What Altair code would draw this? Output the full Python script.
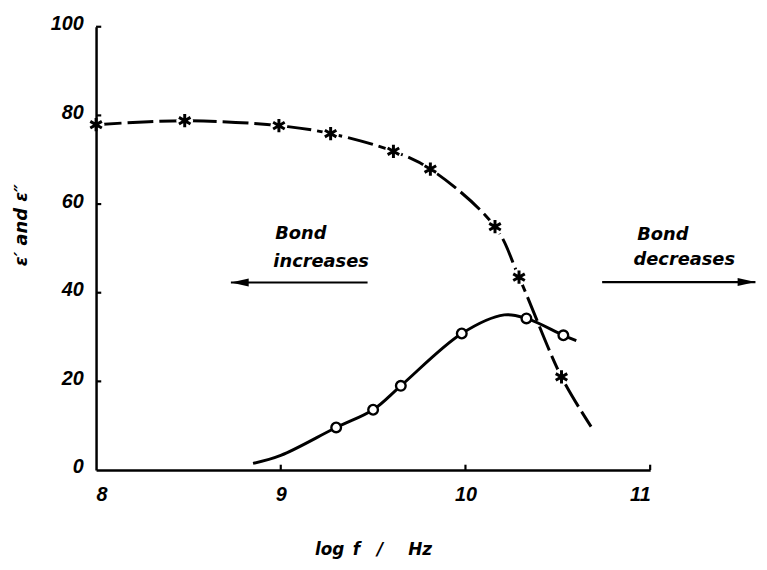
import altair as alt
import pandas as pd

# epsilon' (asterisks, dashed curve)
eps1_x = [8.0, 8.48, 8.99, 9.27, 9.61, 9.81, 10.16, 10.29, 10.52]
eps1_y = [77.9, 78.8, 77.7, 75.9, 71.9, 67.9, 54.9, 43.5, 21.0]
eps1_curve_x = [8.0, 8.48, 8.99, 9.27, 9.61, 9.81, 10.16, 10.29, 10.52, 10.68]
eps1_curve_y = [77.9, 78.8, 77.7, 75.9, 71.9, 67.9, 54.9, 43.5, 21.0, 9.8]

# epsilon'' (open circles, solid curve)
eps2_x = [9.30, 9.50, 9.65, 9.98, 10.33, 10.53]
eps2_y = [9.6, 13.6, 19.0, 30.8, 34.2, 30.4]
eps2_curve_x = [8.85, 9.0, 9.30, 9.50, 9.65, 9.98, 10.21, 10.33, 10.53, 10.60]
eps2_curve_y = [1.5, 3.3, 9.6, 13.6, 19.0, 30.8, 35.0, 34.2, 30.4, 29.2]

# axis ticks
x_ticks = [8, 9, 10, 11]
y_ticks = [0, 20, 40, 60, 80, 100]

# annotations
note_text = ["Bond", "increases", "Bond", "decreases"]
note_x = [8.97, 8.96, 10.93, 10.91]
note_y = [52.2, 45.8, 51.8, 46.2]
arrow_x1 = [9.47, 10.74]
arrow_x2 = [8.73, 11.57]
arrow_y = [42.3, 42.4]
arrow_dir = ["left", "right"]

NUM_FONT = "Liberation Sans"
TXT_FONT = "DejaVu Sans"
SP = "\u2002"

xs = alt.Scale(domain=[8, 11], nice=False, zero=False)
ys = alt.Scale(domain=[0, 100], nice=False, zero=False)

x_axis = alt.Axis(values=x_ticks, format="d", ticks=False, tickSize=0, grid=False,
                  domainColor="black", domainWidth=2.5, labelFont=NUM_FONT,
                  labelFontStyle="italic", labelFontWeight="bold", labelFontSize=20,
                  labelColor="black", labelPadding=15,
                  title="log" + SP + "f" + SP * 2 + "/" + SP * 3 + "Hz",
                  titleFont=TXT_FONT, titleFontStyle="italic", titleFontWeight="bold",
                  titleFontSize=17, titleColor="black", titleX=280, titleY=80,
                  titleBaseline="middle", titleAlign="center", zindex=1)
y_axis = alt.Axis(values=y_ticks, format="d", ticks=False, tickSize=0, grid=False,
                  domainColor="black", domainWidth=2.5, labelFont=NUM_FONT,
                  labelFontStyle="italic", labelFontWeight="bold", labelFontSize=20,
                  labelColor="black", labelPadding=13, labelOffset=-3,
                  title="ε′ and ε″", titleFont=TXT_FONT, titleFontStyle="italic",
                  titleFontWeight="bold", titleFontSize=18, titleColor="black",
                  titleAngle=270, titleX=-75, titleY=200, titleBaseline="middle",
                  titleAlign="center", zindex=1)

curve1 = pd.DataFrame({"x": eps1_curve_x, "y": eps1_curve_y})
curve2 = pd.DataFrame({"x": eps2_curve_x, "y": eps2_curve_y})
pts1 = pd.DataFrame({"x": eps1_x, "y": eps1_y})
pts2 = pd.DataFrame({"x": eps2_x, "y": eps2_y})

line1 = alt.Chart(curve1).mark_line(
    color="black", strokeWidth=3, strokeDash=[26, 6], interpolate="catmull-rom"
).encode(x=alt.X("x:Q", scale=xs, axis=x_axis), y=alt.Y("y:Q", scale=ys, axis=y_axis))

line2 = alt.Chart(curve2).mark_line(
    color="black", strokeWidth=3, interpolate="catmull-rom"
).encode(x=alt.X("x:Q", scale=xs), y=alt.Y("y:Q", scale=ys))

halo = alt.Chart(pts1).mark_point(
    shape="circle", filled=True, color="white", opacity=1, size=290
).encode(x=alt.X("x:Q", scale=xs), y=alt.Y("y:Q", scale=ys))

ASTER = "M0,-1L0,1M-0.87,-0.5L0.87,0.5M-0.87,0.5L0.87,-0.5"
stars = alt.Chart(pts1).mark_point(
    shape=ASTER, filled=False, stroke="black", strokeWidth=3, opacity=1, size=180
).encode(x=alt.X("x:Q", scale=xs), y=alt.Y("y:Q", scale=ys))

circles = alt.Chart(pts2).mark_point(
    shape="circle", filled=True, fill="white", stroke="black", strokeWidth=2.4,
    opacity=1, size=95
).encode(x=alt.X("x:Q", scale=xs), y=alt.Y("y:Q", scale=ys))

xt = pd.DataFrame({"x": x_ticks[1:], "y": [0] * 3, "y2": [1.2] * 3})
x_tick_marks = alt.Chart(xt).mark_rule(color="black", strokeWidth=2.2).encode(
    x=alt.X("x:Q", scale=xs), y=alt.Y("y:Q", scale=ys), y2="y2:Q")
yt = pd.DataFrame({"y": y_ticks[1:], "x": [8.0] * 5, "x2": [8.028] * 5})
y_tick_marks = alt.Chart(yt).mark_rule(color="black", strokeWidth=2.2).encode(
    y=alt.Y("y:Q", scale=ys), x=alt.X("x:Q", scale=xs), x2="x2:Q")

arrows = pd.DataFrame({"x1": arrow_x1, "x2": arrow_x2, "y": arrow_y, "dir": arrow_dir})
shafts = alt.Chart(arrows).mark_rule(color="black", strokeWidth=2.2).encode(
    x=alt.X("x1:Q", scale=xs), x2="x2:Q", y=alt.Y("y:Q", scale=ys))
head_l = alt.Chart(arrows).transform_filter(alt.datum.dir == "left").mark_point(
    shape="M0,0L2,-0.45L2,0.45Z", filled=True, color="black", opacity=1, size=324
).encode(x=alt.X("x2:Q", scale=xs), y=alt.Y("y:Q", scale=ys))
head_r = alt.Chart(arrows).transform_filter(alt.datum.dir == "right").mark_point(
    shape="M0,0L-2,-0.45L-2,0.45Z", filled=True, color="black", opacity=1, size=324
).encode(x=alt.X("x2:Q", scale=xs), y=alt.Y("y:Q", scale=ys))

notes = pd.DataFrame({"t": note_text, "x": note_x, "y": note_y})
texts = alt.Chart(notes).mark_text(
    font=TXT_FONT, fontStyle="italic", fontWeight="bold", fontSize=18, align="left",
    baseline="alphabetic", color="black"
).encode(x=alt.X("x:Q", scale=xs), y=alt.Y("y:Q", scale=ys), text="t:N")

chart = alt.layer(
    line1, line2, halo, stars, circles, x_tick_marks, y_tick_marks,
    shafts, head_l, head_r, texts
).properties(
    width=560, height=448,
    autosize=alt.AutoSizeParams(type="none"),
    padding={"left": 89, "top": 16, "right": 110, "bottom": 90},
    background="white",
).configure_view(stroke=None)

chart.save("out.html", embed_options={"renderer": "svg", "actions": False})
